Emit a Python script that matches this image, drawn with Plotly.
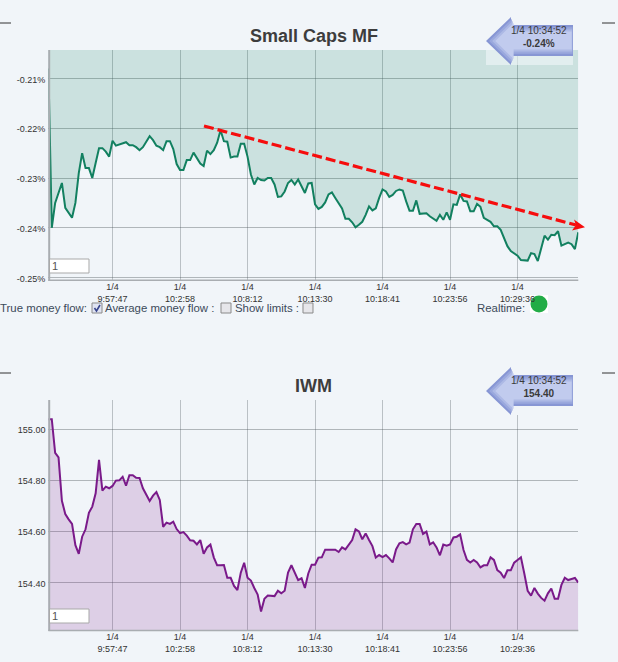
import plotly.graph_objects as go

W, H = 618, 662

tick_index = [19, 39, 59, 79, 99, 119, 139]
tick_times = ["9:57:47", "10:2:58", "10:8:12", "10:13:30", "10:18:41", "10:23:56", "10:29:36"]

mf_ticks = [-0.21, -0.22, -0.23, -0.24, -0.25]
mf_labels = ["-0.21%", "-0.22%", "-0.23%", "-0.24%", "-0.25%"]
iwm_ticks = [155.0, 154.8, 154.6, 154.4]
iwm_labels = ["155.00", "154.80", "154.60", "154.40"]

money_flow = [
    -0.208, -0.24, -0.235, -0.233, -0.231, -0.236, -0.237, -0.238, -0.235, -0.229,
    -0.225, -0.228, -0.228, -0.230, -0.227, -0.224, -0.224, -0.2247, -0.2257, -0.2225,
    -0.2235, -0.2233, -0.223, -0.2228, -0.2234, -0.2234, -0.2238, -0.2244, -0.2238, -0.2228,
    -0.2216, -0.2224, -0.2235, -0.2238, -0.2244, -0.2226, -0.2226, -0.2242, -0.2272, -0.2284,
    -0.2284, -0.2264, -0.2264, -0.2249, -0.2259, -0.2271, -0.2276, -0.2245, -0.2252, -0.2244,
    -0.2229, -0.2204, -0.2226, -0.2227, -0.2259, -0.2257, -0.2257, -0.2231, -0.2231, -0.2257,
    -0.2293, -0.2313, -0.230, -0.2304, -0.2305, -0.230, -0.230, -0.2313, -0.2338, -0.2337,
    -0.2327, -0.231, -0.2304, -0.2313, -0.2303, -0.2317, -0.233, -0.2311, -0.231, -0.2353,
    -0.2362, -0.2358, -0.2349, -0.2333, -0.2329, -0.234, -0.235, -0.2361, -0.2382, -0.2382,
    -0.2389, -0.2399, -0.2394, -0.2388, -0.2374, -0.2357, -0.2365, -0.2361, -0.234, -0.2323,
    -0.2327, -0.2338, -0.2334, -0.2326, -0.2323, -0.2325, -0.2347, -0.2366, -0.2366, -0.2345,
    -0.2372, -0.2371, -0.2371, -0.2377, -0.2382, -0.2386, -0.2374, -0.2384, -0.2369, -0.2384,
    -0.2353, -0.2354, -0.2333, -0.2346, -0.2347, -0.2367, -0.2367, -0.2352, -0.2358, -0.238,
    -0.2384, -0.2388, -0.2397, -0.2397, -0.2404, -0.242, -0.2437, -0.2447, -0.2452, -0.2456,
    -0.2465, -0.2465, -0.2466, -0.2451, -0.2453, -0.2467, -0.2441, -0.2416, -0.2424, -0.2414,
    -0.2415, -0.2407, -0.2436, -0.2433, -0.243, -0.2433, -0.2443, -0.2409,
]

iwm_price = [
    155.04, 155.04, 154.908, 154.89, 154.72, 154.668, 154.647, 154.629, 154.546, 154.512,
    154.579, 154.608, 154.673, 154.697, 154.749, 154.88, 154.76, 154.775, 154.769, 154.778,
    154.799, 154.80, 154.814, 154.779, 154.82, 154.82, 154.81, 154.809, 154.769, 154.744,
    154.719, 154.74, 154.754, 154.723, 154.618, 154.634, 154.629, 154.638, 154.609, 154.593,
    154.597, 154.583, 154.565, 154.563, 154.549, 154.566, 154.512, 154.537, 154.548, 154.498,
    154.467, 154.467, 154.468, 154.418, 154.418, 154.386, 154.37, 154.438, 154.477, 154.418,
    154.407, 154.378, 154.352, 154.286, 154.336, 154.348, 154.346, 154.346, 154.367, 154.357,
    154.367, 154.438, 154.467, 154.438, 154.409, 154.416, 154.378, 154.435, 154.469, 154.469,
    154.497, 154.498, 154.528, 154.528, 154.528, 154.528, 154.519, 154.537, 154.529, 154.546,
    154.566, 154.608, 154.60, 154.569, 154.592, 154.566, 154.542, 154.497, 154.507, 154.499,
    154.507, 154.494, 154.478, 154.529, 154.553, 154.558, 154.549, 154.556, 154.608, 154.629,
    154.629, 154.59, 154.599, 154.549, 154.557, 154.537, 154.506, 154.548, 154.544, 154.549,
    154.576, 154.579, 154.588, 154.527, 154.488, 154.478, 154.488, 154.478, 154.459, 154.467,
    154.467, 154.498, 154.488, 154.448, 154.438, 154.417, 154.447, 154.447, 154.477, 154.488,
    154.498, 154.435, 154.367, 154.348, 154.378, 154.356, 154.339, 154.328, 154.357, 154.376,
    154.336, 154.336, 154.39, 154.418, 154.409, 154.413, 154.417, 154.399,
]

BG = "#f1f5f9"
FONT = "Liberation Sans"
AXIS_LINE = "#a9adb1"


def fx(x):
    return x / W


def fy(y):
    return 1 - y / H


def poly(points):
    return "M " + " L ".join(f"{fx(x):.5f},{fy(y):.5f}" for x, y in points) + " Z"


def paper_shape(points, color, line=None):
    return dict(type="path", xref="paper", yref="paper", path=poly(points), fillcolor=color,
                line=dict(width=0 if line is None else 1, color=line or color))


def rect(x0, y0, x1, y1, color, line=None):
    return paper_shape([(x0, y0), (x1, y0), (x1, y1), (x0, y1)], color, line)


def rule(x0, y0, x1, y1, color, width=1):
    return dict(type="line", xref="paper", yref="paper", x0=fx(x0), x1=fx(x1), y0=fy(y0), y1=fy(y1),
                line=dict(color=color, width=width))


def badge(top):
    # blue arrow tag, nested bands stand in for the gradient of the original image
    out = []
    bands = ["#8796d4", "#9aa8dd", "#adb9e5", "#c1cbee"]
    for k, c in enumerate(bands):
        i = k * 2.2
        out.append(paper_shape([
            (486 + i * 1.4, top + 24), (511 + i * 0.4, top + i * 0.9), (511 + i * 0.4, top + 8 + i),
            (573 - i * 0.2, top + 8 + i), (573 - i * 0.2, top + 39 - i), (511 + i * 0.4, top + 39 - i),
            (511 + i * 0.4, top + 48 - i * 0.9),
        ], c))
    return out


def checkbox(x, y, checked=False):
    out = [rect(x, y, x + 10, y + 10, "#e6e6ea" if not checked else "#dfe3f2", "#8a8a8a")]
    if checked:
        out.append(dict(type="path", xref="paper", yref="paper",
                        path="M " + " L ".join(f"{fx(a):.5f},{fy(b):.5f}" for a, b in
                                               [(x + 2.5, y + 5), (x + 4.5, y + 8), (x + 8, y + 2)]),
                        line=dict(color="#37458c", width=1.6)))
    return out


x_index = list(range(len(money_flow)))
tick_text = ["1/4<br>" + t for t in tick_times]

fig = go.Figure()
fig.add_trace(go.Scatter(x=x_index, y=money_flow, mode="lines", fill="tozeroy",
                         fillcolor="rgba(18,128,96,0.17)",
                         line=dict(color="#128060", width=2), xaxis="x", yaxis="y"))
fig.add_trace(go.Scatter(x=x_index, y=iwm_price, mode="lines", fill="tozeroy",
                         fillcolor="rgba(122,26,138,0.17)",
                         line=dict(color="#7a1a8a", width=2), xaxis="x2", yaxis="y2"))

x_common = dict(range=[0, 157], tickmode="array", tickvals=tick_index, ticktext=tick_text,
                showgrid=True, gridcolor="rgba(90,100,105,0.36)", gridwidth=1, zeroline=False,
                showline=False, ticks="", fixedrange=True, automargin=False,
                tickfont=dict(family=FONT, size=9, color="#333333"), tickangle=0)
y_common = dict(tickmode="array", showgrid=True, gridcolor="rgba(70,80,85,0.38)", gridwidth=1,
                zeroline=False, showline=False, ticks="", fixedrange=True, automargin=False,
                ticklabelshift=1, ticklabelstandoff=2, tickfont=dict(family=FONT, size=9, color="#333333"))

shapes = [
    rule(0, 23, 11, 23, "#333333"), rule(602, 23, 615, 23, "#333333"),
    rule(0, 373, 11, 373, "#333333"), rule(602, 373, 615, 373, "#333333"),
    # axis lines sit on the plot edge in the original
    rule(49.2, 50, 49.2, 281, AXIS_LINE, 2), rule(48.4, 280.2, 578.3, 280.2, AXIS_LINE, 1.5),
    rule(49.2, 400, 49.2, 631, AXIS_LINE, 2), rule(48.4, 630.5, 578.3, 630.5, AXIS_LINE, 1.5),
]
# red trend arrow over the top chart
shapes.append(rule(204, 126, 576, 225, "#f60d0d", 3.2))
shapes[-1]["line"]["dash"] = "10px,4px"
shapes.append(paper_shape([(585, 227.3), (572, 230.5), (576, 225), (574, 219.5)], "#f60d0d"))
# tag backing strips, then the tags
shapes.append(rect(486, 50, 573, 65, "rgba(242,247,250,0.6)"))
shapes.append(rect(486, 400, 573, 415, BG))
shapes += badge(17) + badge(367)
# input boxes
shapes.append(rect(49.5, 259, 89, 273, "#ffffff", "#a9a9a9"))
shapes.append(rect(49.5, 609, 89, 623, "#ffffff", "#a9a9a9"))
# check row
shapes += checkbox(92, 303, True) + checkbox(221, 303) + checkbox(303, 303)
# realtime lamp goes under the tick labels, the last time label runs over it
lamp_back = rect(530, 295, 548, 313, "#ffffff")
lamp_back["layer"] = "below"
shapes.append(lamp_back)
shapes.append(dict(type="circle", xref="paper", yref="paper", x0=fx(530.5), x1=fx(547.5), y0=fy(312.5), y1=fy(295.5),
                   fillcolor="#22ac46", line=dict(width=0), layer="below"))


def label(x, y, text, size=11.4, color="#3c4a5a", anchor="left", bold=False):
    return dict(xref="paper", yref="paper", x=fx(x), y=fy(y), text=f"<b>{text}</b>" if bold else text,
                showarrow=False, xanchor=anchor, yanchor="middle", align="center",
                font=dict(family=FONT, size=size, color=color))


annotations = [
    label(313.5, 36, "Small Caps MF", size=18, color="#3d3d3d", anchor="center", bold=True),
    label(313.5, 386, "IWM", size=18, color="#3d3d3d", anchor="center", bold=True),
    label(539, 37, "1/4 10:34:52<br><b>-0.24%</b>", size=10, color="#3a3a3a", anchor="center"),
    label(539, 387, "1/4 10:34:52<br><b>154.40</b>", size=10, color="#3a3a3a", anchor="center"),
    label(-2, 308.5, "True money flow:"),
    label(103, 308.5, "Average money flow :"),
    label(233, 308.5, "Show limits :"),
    label(475, 308.5, "Realtime:"),
    label(50, 266, "1", size=11, color="#555555"),
    label(50, 616, "1", size=11, color="#555555"),
]

fig.update_layout(
    width=W, height=H, autosize=False, showlegend=False,
    margin=dict(l=0, r=0, t=0, b=0),
    paper_bgcolor=BG, plot_bgcolor=BG,
    font=dict(family=FONT),
    xaxis=dict(domain=[fx(48.4), fx(578.3)], anchor="y", **x_common),
    yaxis=dict(domain=[fy(280), fy(50)], anchor="x", range=[-0.2505, -0.20427],
               tickvals=mf_ticks, ticktext=mf_labels, **y_common),
    xaxis2=dict(domain=[fx(48.4), fx(578.3)], anchor="y2", **x_common),
    yaxis2=dict(domain=[fy(630.3), fy(400)], anchor="x2", range=[154.212, 155.115],
                tickvals=iwm_ticks, ticktext=iwm_labels, **y_common),
    shapes=shapes,
    annotations=annotations,
)

fig.write_html("out.html", config=dict(displayModeBar=False),
               post_script="document.body.style.margin='0';document.body.style.overflow='hidden';")
